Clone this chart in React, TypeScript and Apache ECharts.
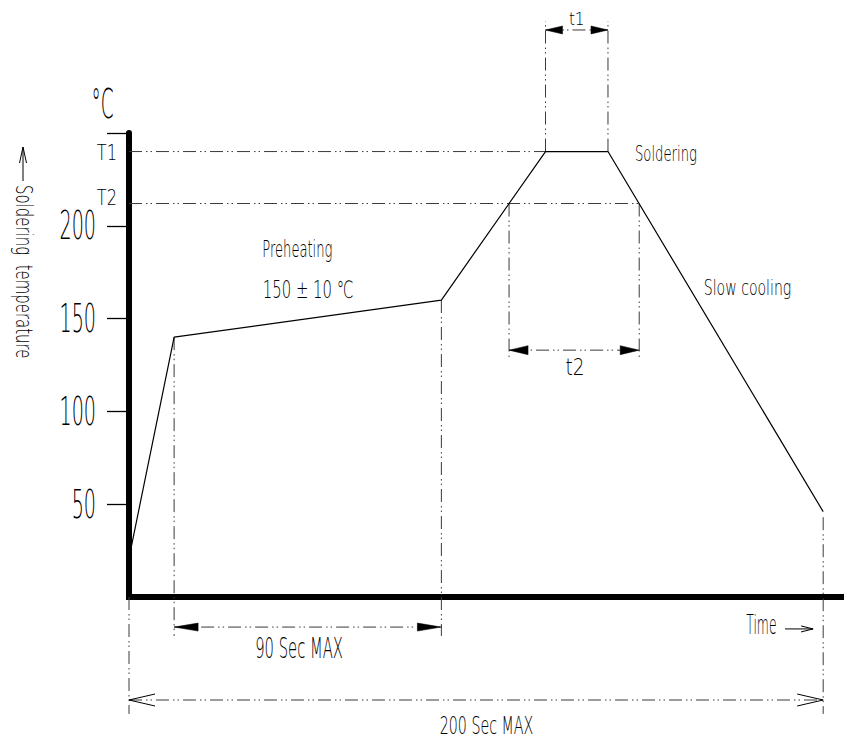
import React, { useEffect, useRef } from "react";
import * as echarts from "echarts";

// ---- data ----
const profileTimes = [0, 13, 90, 120, 138, 200]; // s
const profileTemps = [21, 140, 160, 240, 240, 46]; // °C

const yTickValues = [50, 100, 150, 200, 250];
const yLabelValues = [50, 100, 150, 200];
const yTickLabels = ["50", "100", "150", "200"];

const T1 = 240;
const T2 = 212;
const t1Span = [120, 138];
const t2Span = [109.5, 147];
const preheatSpan = [13, 90];
const totalSpan = [0, 200];

const X_MAX = 206;
const Y_MAX = 250;

const FONT = "'DejaVu Sans', sans-serif";
const DASH = [13, 4, 1.5, 3, 1.5, 4];

// dash-dot guide segments [t0, v0, t1, v1]
const guideSegments = [
  [0, T1, t1Span[0], T1],
  [0, T2, t2Span[1], T2],
  [t1Span[0], T1, t1Span[0], 310],
  [t1Span[1], T1, t1Span[1], 310],
  [t2Span[0], T2, t2Span[0], 128.5],
  [t2Span[1], T2, t2Span[1], 128.5],
  [preheatSpan[0], 140, preheatSpan[0], -21],
  [preheatSpan[1], 160, preheatSpan[1], -21],
  [totalSpan[0], 0, totalSpan[0], -63],
  [totalSpan[1], 43, totalSpan[1], -63],
];

// dimension arrows [tStart, tEnd, level, open(1)/filled(0), headLen, halfWidth]
const dimensionArrows = [
  [t1Span[0], t1Span[1], 305.5, 0, 17, 4],
  [t2Span[0], t2Span[1], 133, 0, 19, 4.5],
  [preheatSpan[0], preheatSpan[1], -16.2, 0, 24, 4],
  [totalSpan[0], totalSpan[1], -55.5, 1, 26, 6],
];

// annotation texts
const noteTexts = ["t1", "t2", "90 Sec MAX", "200 Sec MAX", "Preheating", "150 ± 10 ℃", "Soldering", "Slow cooling", "Time"];
const noteTimes = [129, 128.5, 49, 103, 48.5, 51.6, 154.7, 178.2, 182.2];
const noteTemps = [311.5, 124, -27.5, -69, 187.4, 165.9, 238.9, 166.7, -15];
const noteSizes = [17, 23, 29, 25, 23, 24, 22, 22, 27];
const noteScales = [0.9, 0.8, 0.51, 0.57, 0.57, 0.62, 0.6, 0.64, 0.46];

const timeArrow = [189, 197.1, -17.2];

export default function App() {
  const ref = useRef<HTMLDivElement>(null);

  useEffect(() => {
    if (!ref.current) return;
    const chart = echarts.init(ref.current, null, { renderer: "svg" });

    const textEl = (text: string, x: number, y: number, size: number, sx: number, align = "center", extra: any = {}) => ({
      type: "text",
      x,
      y,
      scaleX: sx,
      silent: true,
      ...extra,
      style: {
        text,
        fontSize: size,
        fontFamily: FONT,
        fontWeight: 200,
        fill: "#000",
        align,
        verticalAlign: "middle",
      },
    });

    const renderItem = (_params: any, api: any) => {
      const P = (t: number, v: number) => api.coord([t, v]);
      const children: any[] = [];
      const dashStyle = { stroke: "#3a3a3a", lineWidth: 1, lineDash: DASH };

      guideSegments.forEach(([a0, b0, a1, b1]) => {
        const p = P(a0, b0);
        const q = P(a1, b1);
        children.push({ type: "line", shape: { x1: p[0], y1: p[1], x2: q[0], y2: q[1] }, style: dashStyle });
      });

      dimensionArrows.forEach(([s, e, lvl, open, len, hw]) => {
        const p = P(s, lvl);
        const q = P(e, lvl);
        const y = p[1];
        children.push({ type: "line", shape: { x1: p[0], y1: y, x2: q[0], y2: y }, style: dashStyle });
        [[p[0], 1], [q[0], -1]].forEach(([tx, dir]) => {
          if (open) {
            children.push({
              type: "polyline",
              shape: { points: [[tx + dir * len, y - hw], [tx, y], [tx + dir * len, y + hw]] },
              style: { stroke: "#000", lineWidth: 1, fill: null },
            });
          } else {
            children.push({
              type: "polygon",
              shape: { points: [[tx, y], [tx + dir * len, y - hw], [tx + dir * len, y + hw]] },
              style: { fill: "#000", stroke: "#000", lineWidth: 0.5 },
            });
          }
        });
      });

      // time arrow
      {
        const p = P(timeArrow[0], timeArrow[2]);
        const q = P(timeArrow[1], timeArrow[2]);
        children.push({ type: "line", shape: { x1: p[0], y1: p[1], x2: q[0], y2: q[1] }, style: { stroke: "#000", lineWidth: 1 } });
        children.push({
          type: "polyline",
          shape: { points: [[q[0] - 12, q[1] - 3], [q[0], q[1]], [q[0] - 12, q[1] + 3]] },
          style: { stroke: "#000", lineWidth: 1, fill: null },
        });
      }

      noteTexts.forEach((txt, i) => {
        const p = P(noteTimes[i], noteTemps[i]);
        children.push(textEl(txt, p[0], p[1], noteSizes[i], noteScales[i]));
      });

      // y tick labels
      yLabelValues.forEach((v, i) => {
        const p = P(0, v);
        children.push(textEl(yTickLabels[i], p[0] - 33, p[1], 39, 0.49, "right"));
      });
      // T1 / T2 labels
      {
        const p1 = P(0, T1);
        children.push(textEl("T1", p1[0] - 12, p1[1] + 1, 21, 0.77, "right"));
        const p2 = P(0, T2);
        children.push(textEl("T2", p2[0] - 12, p2[1] - 6, 21, 0.77, "right"));
      }

      return { type: "group", children };
    };

    chart.setOption({
      animation: false,
      backgroundColor: "#fff",
      textStyle: { fontFamily: FONT },
      grid: { left: 129, right: 0, top: 133, bottom: 143 },
      xAxis: {
        type: "value",
        min: 0,
        max: X_MAX,
        axisLine: { show: true, lineStyle: { color: "#000", width: 6, cap: "square" } },
        axisTick: { show: false },
        axisLabel: { show: false },
        splitLine: { show: false },
      },
      yAxis: {
        type: "value",
        min: 0,
        max: Y_MAX,
        interval: 50,
        axisLine: { show: true, lineStyle: { color: "#000", width: 6 } },
        axisTick: { show: true, length: 22, customValues: yTickValues, lineStyle: { color: "#000", width: 1.3 } },
        axisLabel: { show: false },
        splitLine: { show: false },
      },
      graphic: [
        textEl("°C", 102.5, 103, 41, 0.45),
        textEl("Soldering  temperature", 24, 185, 23, 0.65, "left", { rotation: -Math.PI / 2 }),
        {
          type: "line",
          shape: { x1: 23, y1: 181, x2: 23, y2: 147 },
          style: { stroke: "#000", lineWidth: 1 },
        },
        {
          type: "polyline",
          shape: { points: [[19.5, 163], [23, 147], [26.5, 163]] },
          style: { stroke: "#000", lineWidth: 1, fill: null },
        },
      ],
      series: [
        {
          type: "line",
          data: profileTimes.map((t, i) => [t, profileTemps[i]]),
          symbol: "none",
          silent: true,
          lineStyle: { color: "#000", width: 1.2 },
          itemStyle: { color: "#000" },
          z: 5,
        },
        {
          type: "custom",
          data: [[0, 0]],
          clip: false,
          silent: true,
          renderItem,
          z: 4,
        },
      ],
    });

    return () => chart.dispose();
  }, []);

  return (
    <div
      ref={ref}
      style={{ position: "fixed", left: 0, top: 0, width: 844, height: 740, background: "#fff" }}
    />
  );
}
